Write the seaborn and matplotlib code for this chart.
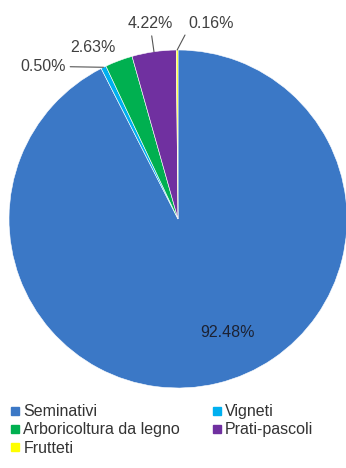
import numpy as np
import matplotlib
matplotlib.use("Agg")
import matplotlib.pyplot as plt
import seaborn as sns
from matplotlib.lines import Line2D

# dati (percentuali di superficie)
categorie = ["Seminativi", "Vigneti", "Arboricoltura da legno", "Prati-pascoli", "Frutteti"]
valori = [92.48, 0.50, 2.63, 4.22, 0.16]
etichette = ["92.48%", "0.50%", "2.63%", "4.22%", "0.16%"]
colori = ["#3B78C6", "#00B0F0", "#00B050", "#7030A0", "#FFFF00"]

sns.set_style("white")
plt.rcParams["font.family"] = ["Liberation Sans", "DejaVu Sans"]

fig = plt.figure(figsize=(3.46, 4.68), dpi=100)
R = 169
ax = fig.add_axes([(178 - R) / 346, (468 - 219 - R) / 468, 2 * R / 346, 2 * R / 468])

wedges, _ = ax.pie(valori, colors=colori, startangle=90, counterclock=False,
                   wedgeprops=dict(edgecolor="white", linewidth=0.4))
ax.set_xlim(-1, 1)
ax.set_ylim(-1, 1)
for w in wedges:
    w.set_clip_on(False)

# angolo medio di ogni fetta
angoli = [np.deg2rad((w.theta1 + w.theta2) / 2) for w in wedges]
punti = [(np.cos(a), np.sin(a)) for a in angoli]

testo = "#404040"
fs = 11.5

# etichetta interna
ax.annotate(etichette[0], xy=(0.7 * punti[0][0], 0.7 * punti[0][1]), xytext=(22, 2),
            textcoords="offset pixels", ha="center", va="center", fontsize=fs, color="#1c2233")

linea = dict(arrowstyle="-", color="#555555", lw=0.8, shrinkA=1, shrinkB=0)
ax.annotate(etichette[1], xy=punti[1], xytext=(-38, 1), textcoords="offset pixels",
            ha="right", va="center", fontsize=fs, color=testo, arrowprops=linea)
ax.annotate(etichette[2], xy=punti[2], xytext=(-26, 13), textcoords="offset pixels",
            ha="center", va="center", fontsize=fs, color=testo)
ax.annotate(etichette[3], xy=punti[3], xytext=(-4, 28), textcoords="offset pixels",
            ha="center", va="center", fontsize=fs, color=testo, arrowprops=linea)
ax.annotate(etichette[4], xy=punti[4], xytext=(11, 27), textcoords="offset pixels",
            ha="left", va="center", fontsize=fs, color=testo,
            arrowprops=dict(linea, relpos=(0.0, 0.1)))

# legenda riga per riga
ordine = [0, 2, 4, 1, 3]
maniglie = [Line2D([], [], marker="s", linestyle="", markersize=5.5, color=colori[i]) for i in ordine]
fig.legend(maniglie, [categorie[i] for i in ordine], ncol=2, loc="upper left",
           bbox_to_anchor=(0.012, 0.15), frameon=False, fontsize=fs,
           handlelength=0.6, handletextpad=0.2, columnspacing=2.0,
           labelspacing=0.2, borderaxespad=0, labelcolor="#333333")

fig.savefig("out.png", dpi=100)
